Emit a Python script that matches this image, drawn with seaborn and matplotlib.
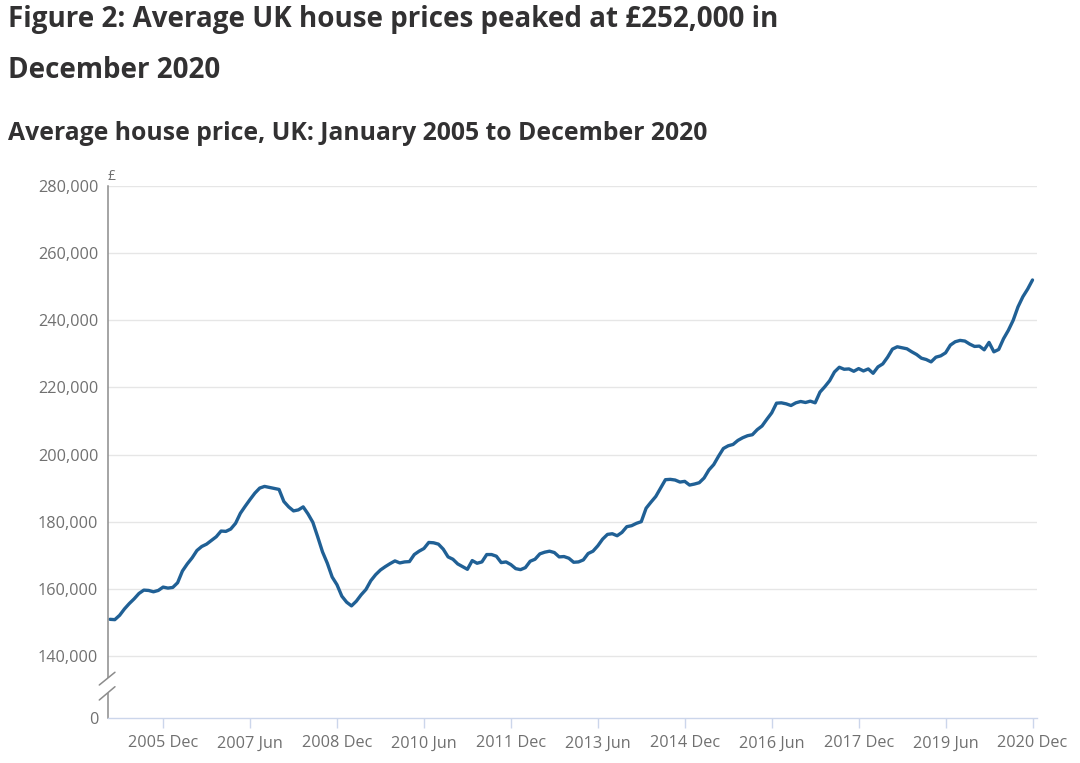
import numpy as np
import pandas as pd
import matplotlib
matplotlib.use("Agg")
import matplotlib.pyplot as plt
from matplotlib.patches import Rectangle
import seaborn as sns

# ---------------- data (average UK house price, £, monthly) ----------------
price_2005 = [150900, 150800, 152100, 154000, 155600, 157000, 158600, 159600, 159500, 159100, 159500, 160500]
price_2006 = [160200, 160400, 161800, 165300, 167400, 169200, 171400, 172600, 173300, 174400, 175500, 177200]
price_2007 = [177100, 177800, 179500, 182500, 184600, 186600, 188500, 190000, 190500, 190200, 189900, 189600]
price_2008 = [186000, 184400, 183200, 183500, 184400, 182300, 179800, 175500, 171000, 167600, 163500, 161200]
price_2009 = [157800, 156000, 154900, 156300, 158200, 159800, 162400, 164200, 165600, 166600, 167500, 168300]
price_2010 = [167700, 168000, 168100, 170200, 171200, 172000, 173800, 173700, 173300, 171800, 169500, 168800]
price_2011 = [167400, 166600, 165800, 168400, 167600, 168000, 170200, 170200, 169700, 167800, 168000, 167200]
price_2012 = [166000, 165700, 166300, 168200, 168800, 170400, 170900, 171200, 170800, 169500, 169600, 169100]
price_2013 = [167900, 168000, 168600, 170500, 171200, 172800, 174800, 176200, 176400, 175800, 176800, 178500]
price_2014 = [178800, 179500, 180000, 184000, 185800, 187500, 190000, 192500, 192600, 192400, 191800, 192000]
price_2015 = [190900, 191200, 191600, 193000, 195400, 197000, 199500, 201800, 202600, 203000, 204200, 205000]
price_2016 = [205600, 205900, 207400, 208500, 210500, 212400, 215300, 215400, 215100, 214600, 215400, 215800]
price_2017 = [215500, 215900, 215400, 218600, 220200, 222000, 224600, 226000, 225400, 225500, 224800, 225600]
price_2018 = [224900, 225500, 224200, 226100, 227000, 229000, 231400, 232100, 231800, 231500, 230600, 229800]
price_2019 = [228700, 228300, 227600, 229000, 229400, 230300, 232600, 233600, 234000, 233800, 232900, 232200]
price_2020 = [232300, 231200, 233400, 230600, 231300, 234500, 237000, 240000, 244000, 247000, 249300, 252000]

years = list(range(2005, 2021))
month_names = ["Jan", "Feb", "Mar", "Apr", "May", "Jun", "Jul", "Aug", "Sep", "Oct", "Nov", "Dec"]
x_tick_labels = ["2005 Dec", "2007 Jun", "2008 Dec", "2010 Jun", "2011 Dec", "2013 Jun",
                 "2014 Dec", "2016 Jun", "2017 Dec", "2019 Jun", "2020 Dec"]
y_tick_values = [0, 140000, 160000, 180000, 200000, 220000, 240000, 260000, 280000]

prices = (price_2005 + price_2006 + price_2007 + price_2008 + price_2009 + price_2010 +
          price_2011 + price_2012 + price_2013 + price_2014 + price_2015 + price_2016 +
          price_2017 + price_2018 + price_2019 + price_2020)
period_labels = [f"{y} {m}" for y in years for m in month_names]
df = pd.DataFrame({"period": period_labels, "month": np.arange(len(prices)), "price": prices})
tick_pos = [period_labels.index(lbl) for lbl in x_tick_labels]

# ---------------- style ----------------
sns.set_theme(style="white")
plt.rcParams['font.family'] = ['Open Sans', 'DejaVu Sans']

TITLE_C = "#323132"
TICK_C = "#707070"
LINE_C = "#206095"

fig = plt.figure(figsize=(10.8, 7.63), dpi=100)
ax = fig.add_axes([108 / 1080, 45 / 763, 929 / 1080, 532 / 763])

# broken y-axis: compress 0..140,000 into a small band
def fwd(v):
    v = np.asarray(v, dtype=float)
    return np.where(v >= 140000, v, 121500 + v * (18500 / 140000))

def inv(u):
    u = np.asarray(u, dtype=float)
    return np.where(u >= 140000, u, (u - 121500) * (140000 / 18500))

ax.set_yscale("function", functions=(fwd, inv))

sns.lineplot(data=df, x="month", y="price", ax=ax, color=LINE_C, linewidth=2.4)

ax.set_ylim(0, 280000)
ax.set_xlim(-0.41, len(prices) - 1 + 0.93)
ax.set_yticks(y_tick_values)
ax.set_yticklabels([f"{v:,}" for v in y_tick_values])
ax.set_xticks(tick_pos)
ax.set_xticklabels(x_tick_labels)
ax.set_xlabel("")
ax.set_ylabel("")

ax.yaxis.grid(True, color="#e6e6e6", linewidth=1)
ax.xaxis.grid(False)
ax.get_ygridlines()[0].set_visible(False)
ax.set_axisbelow(True)

ax.tick_params(axis="y", length=0, pad=7, labelsize=11.7, labelcolor=TICK_C)
ax.tick_params(axis="x", length=7.5, width=1, color="#ccd6eb", pad=5, labelsize=11.7,
               labelcolor=TICK_C, bottom=True)

for s in ["top", "right"]:
    ax.spines[s].set_visible(False)
ax.spines["left"].set_color("#8c8c8c")
ax.spines["left"].set_linewidth(1.1)
ax.spines["bottom"].set_color("#ccd6eb")
ax.spines["bottom"].set_linewidth(1)

# axis break marks
ax.add_patch(Rectangle((-0.006, 0.0475), 0.012, 0.0275, transform=ax.transAxes,
                       facecolor="white", edgecolor="none", clip_on=False, zorder=5))
for y0, y1 in [(0.0620, 0.0860), (0.0338, 0.0588)]:
    ax.plot([-0.0094, 0.0075], [y0, y1], transform=ax.transAxes, color="#8c8c8c",
            linewidth=1.1, clip_on=False, zorder=6)

# texts
fig.text(8 / 1080, 1 - 20 / 763, "Figure 2: Average UK house prices peaked at £252,000 in",
         fontsize=20, fontweight="bold", color=TITLE_C, ha="left", va="center")
fig.text(8 / 1080, 1 - 70 / 763, "December 2020",
         fontsize=20, fontweight="bold", color=TITLE_C, ha="left", va="center")
fig.text(8 / 1080, 1 - 133 / 763, "Average house price, UK: January 2005 to December 2020",
         fontsize=17.85, fontweight="bold", color=TITLE_C, ha="left", va="center")
fig.text(108 / 1080, 1 - 176 / 763, "£", fontsize=10, color=TICK_C, ha="left", va="center")

fig.savefig("out.png", dpi=100, facecolor="white")
